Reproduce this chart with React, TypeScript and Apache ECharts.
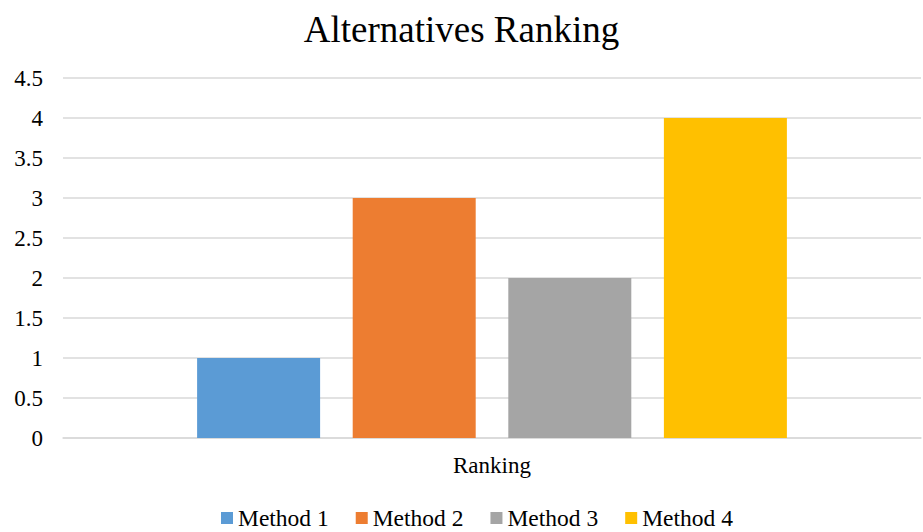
import React, { useEffect, useRef } from "react";
import * as echarts from "echarts";

const categories = ["Ranking"];
const seriesNames = ["Method 1", "Method 2", "Method 3", "Method 4"];
const seriesValues = [[1], [3], [2], [4]];
const colors = ["#5b9bd5", "#ed7d31", "#a5a5a5", "#ffc000"];

const FONT = "Times New Roman, Liberation Serif, DejaVu Serif, serif";

export default function App() {
  const ref = useRef<HTMLDivElement>(null);
  useEffect(() => {
    document.body.style.margin = "0";
    const chart = echarts.init(ref.current!, undefined, { renderer: "svg" });
    chart.setOption({
      animation: false,
      backgroundColor: "#ffffff",
      textStyle: { fontFamily: FONT },
      title: {
        text: "Alternatives Ranking",
        left: "center",
        top: 6,
        textStyle: { fontFamily: FONT, fontSize: 37, fontWeight: "normal", color: "#000" },
      },
      legend: {
        top: 501,
        left: 216,
        itemWidth: 12,
        itemHeight: 12,
        itemGap: 27,
        icon: "rect",
        textStyle: { fontFamily: FONT, fontSize: 23.5, color: "#000" },
        data: seriesNames,
      },
      grid: { left: 63, right: 2, top: 78, bottom: 94, containLabel: false },
      xAxis: {
        type: "category",
        data: categories,
        axisLine: { lineStyle: { color: "#d9d9d9", width: 1.5 } },
        axisTick: { show: false },
        axisLabel: { fontFamily: FONT, fontSize: 23, color: "#000", margin: 16 },
      },
      yAxis: {
        type: "value",
        min: 0,
        max: 4.5,
        interval: 0.5,
        axisLine: { show: false },
        axisTick: { show: false },
        splitLine: { lineStyle: { color: "#d9d9d9", width: 1.5 } },
        axisLabel: { fontFamily: FONT, fontSize: 23, color: "#000", margin: 20 },
      },
      series: seriesNames.map((name, i) => ({
        name,
        type: "bar",
        data: seriesValues[i],
        barWidth: 123,
        barGap: "26.5%",
        itemStyle: { color: colors[i] },
      })),
    });
    return () => chart.dispose();
  }, []);
  return <div ref={ref} style={{ width: 923, height: 532 }} />;
}
